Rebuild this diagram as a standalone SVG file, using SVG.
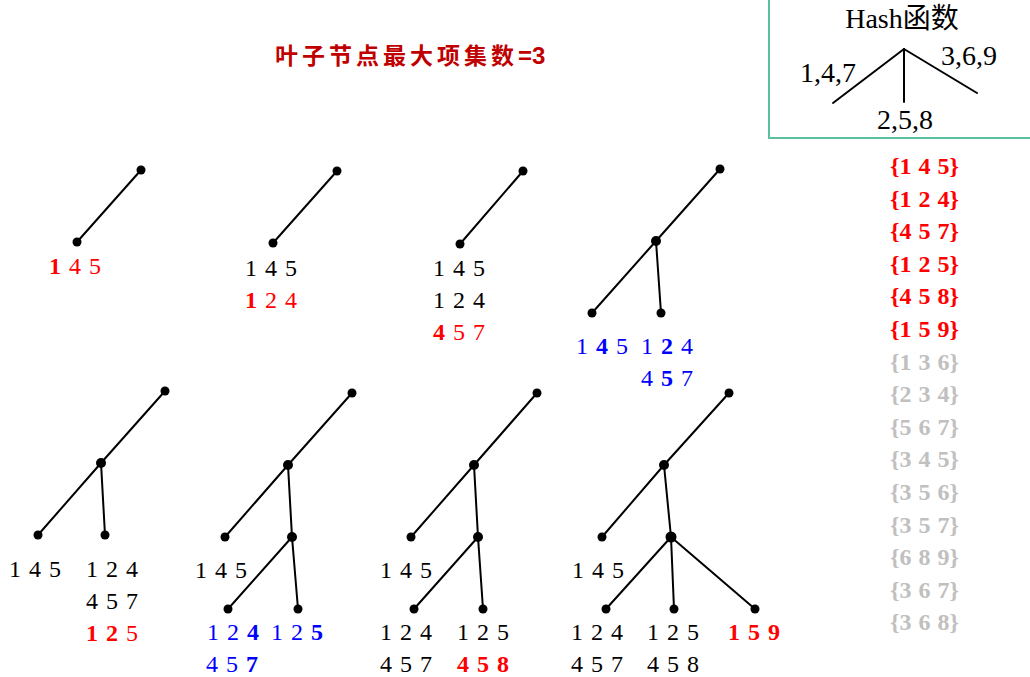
<svg xmlns="http://www.w3.org/2000/svg" width="1030" height="677" viewBox="0 0 1030 677">
<style>
.e{stroke:#000;stroke-width:2;fill:none;stroke-linecap:round}
.n{fill:#000}
.t{font-family:"Liberation Serif","Times New Roman",serif;font-size:24px;word-spacing:2px;fill:#000}
.r{fill:#FF0000}
.b{fill:#0000FF}
.B{font-weight:bold}
.L{font-family:"Liberation Serif","Times New Roman",serif;font-size:24px;font-weight:bold;word-spacing:1px}
.h{font-family:"Liberation Serif","Times New Roman","Noto Sans CJK SC",serif;font-size:28px;fill:#000}
</style>
<rect width="1030" height="677" fill="#fff"/>

<g id="title">
<text x="275" y="64" font-family="'Noto Sans CJK SC',sans-serif" font-size="23" font-weight="bold" letter-spacing="4" fill="#C00000">叶子节点最大项集数<tspan font-family="'Liberation Sans',Arial,sans-serif" font-size="24" letter-spacing="0">=3</tspan></text>
</g>

<g id="hash-box">
<rect x="769" y="-5" width="270" height="143" fill="none" stroke="#5CBFA0" stroke-width="2"/>
<text class="h" x="902" y="28" text-anchor="middle">Hash函数</text>
<line class="e" x1="904" y1="49" x2="833" y2="103"/>
<line class="e" x1="904" y1="49" x2="904" y2="102"/>
<line class="e" x1="904" y1="49" x2="977" y2="93"/>
<text class="h" x="800" y="82">1,4,7</text>
<text class="h" x="941" y="65">3,6,9</text>
<text class="h" x="877" y="129">2,5,8</text>
</g>

<g id="connectors">
<line class="e" x1="141" y1="170" x2="77" y2="242"/>
<line class="e" x1="337" y1="171" x2="273" y2="243"/>
<line class="e" x1="523" y1="171" x2="460" y2="244"/>
<line class="e" x1="720" y1="169" x2="656" y2="241"/>
<line class="e" x1="656" y1="241" x2="592" y2="313"/>
<line class="e" x1="656" y1="241" x2="661" y2="313"/>
<line class="e" x1="165" y1="391" x2="101" y2="463"/>
<line class="e" x1="101" y1="463" x2="38" y2="535"/>
<line class="e" x1="101" y1="463" x2="105" y2="535"/>
<line class="e" x1="352" y1="393" x2="288" y2="465"/>
<line class="e" x1="288" y1="465" x2="225" y2="537"/>
<line class="e" x1="288" y1="465" x2="292" y2="537"/>
<line class="e" x1="292" y1="537" x2="228" y2="609"/>
<line class="e" x1="292" y1="537" x2="298" y2="609"/>
<line class="e" x1="537" y1="393" x2="474" y2="465"/>
<line class="e" x1="474" y1="465" x2="411" y2="537"/>
<line class="e" x1="474" y1="465" x2="478" y2="537"/>
<line class="e" x1="478" y1="537" x2="414" y2="609"/>
<line class="e" x1="478" y1="537" x2="483" y2="609"/>
<line class="e" x1="729" y1="393" x2="664" y2="465"/>
<line class="e" x1="664" y1="465" x2="602" y2="537"/>
<line class="e" x1="664" y1="465" x2="671" y2="537"/>
<line class="e" x1="671" y1="537" x2="606" y2="609"/>
<line class="e" x1="671" y1="537" x2="674" y2="609"/>
<line class="e" x1="671" y1="537" x2="755" y2="609"/>
</g>

<g id="tree1">
<circle class="n" cx="141" cy="170" r="4.5"/>
<g id="tree1-leaf"><circle class="n" cx="77" cy="242" r="4.5"/>
<text class="t r" x="49" y="274"><tspan class="B">1</tspan> 4 5</text></g>
</g>

<g id="tree2">
<circle class="n" cx="337" cy="171" r="4.5"/>
<g id="tree2-leaf"><circle class="n" cx="273" cy="243" r="4.5"/>
<text class="t" x="245" y="276">1 4 5</text>
<text class="t r" x="245" y="308"><tspan class="B">1</tspan> 2 4</text></g>
</g>

<g id="tree3">
<circle class="n" cx="523" cy="171" r="4.5"/>
<g id="tree3-leaf"><circle class="n" cx="460" cy="244" r="4.5"/>
<text class="t" x="433" y="276">1 4 5</text>
<text class="t" x="433" y="308">1 2 4</text>
<text class="t r" x="433" y="340"><tspan class="B">4</tspan> 5 7</text></g>
</g>

<g id="tree4">
<circle class="n" cx="720" cy="169" r="4.5"/>
<circle class="n" cx="656" cy="241" r="5"/>
<g id="tree4-leaf1"><circle class="n" cx="592" cy="313" r="4.5"/>
<text class="t b" x="576" y="354">1 <tspan class="B">4</tspan> 5</text></g>
<g id="tree4-leaf2"><circle class="n" cx="661" cy="313" r="4.5"/>
<text class="t b" x="641" y="354">1 <tspan class="B">2</tspan> 4</text>
<text class="t b" x="641" y="386">4 <tspan class="B">5</tspan> 7</text></g>
</g>

<g id="tree5">
<circle class="n" cx="165" cy="391" r="4.5"/>
<circle class="n" cx="101" cy="463" r="5"/>
<g id="tree5-leaf1"><circle class="n" cx="38" cy="535" r="4.5"/>
<text class="t" x="9" y="577">1 4 5</text></g>
<g id="tree5-leaf2"><circle class="n" cx="105" cy="535" r="4.5"/>
<text class="t" x="86" y="577">1 2 4</text>
<text class="t" x="86" y="609">4 5 7</text>
<text class="t r" x="86" y="641"><tspan class="B">1</tspan> <tspan class="B">2</tspan> 5</text></g>
</g>

<g id="tree6">
<circle class="n" cx="352" cy="393" r="4.5"/>
<circle class="n" cx="288" cy="465" r="5"/>
<g id="tree6-leaf1"><circle class="n" cx="225" cy="537" r="4.5"/>
<text class="t" x="195" y="578">1 4 5</text></g>
<circle class="n" cx="292" cy="537" r="5"/>
<g id="tree6-leaf2"><circle class="n" cx="228" cy="609" r="4.5"/>
<text class="t b" x="207" y="640">1 2 <tspan class="B">4</tspan></text>
<text class="t b" x="206" y="672">4 5 <tspan class="B">7</tspan></text></g>
<g id="tree6-leaf3"><circle class="n" cx="298" cy="609" r="4.5"/>
<text class="t b" x="271" y="640">1 2 <tspan class="B">5</tspan></text></g>
</g>

<g id="tree7">
<circle class="n" cx="537" cy="393" r="4.5"/>
<circle class="n" cx="474" cy="465" r="5"/>
<g id="tree7-leaf1"><circle class="n" cx="411" cy="537" r="4.5"/>
<text class="t" x="380" y="578">1 4 5</text></g>
<circle class="n" cx="478" cy="537" r="5"/>
<g id="tree7-leaf2"><circle class="n" cx="414" cy="609" r="4.5"/>
<text class="t" x="380" y="640">1 2 4</text>
<text class="t" x="380" y="672">4 5 7</text></g>
<g id="tree7-leaf3"><circle class="n" cx="483" cy="609" r="4.5"/>
<text class="t" x="457" y="640">1 2 5</text>
<text class="t r B" x="457" y="672">4 5 8</text></g>
</g>

<g id="tree8">
<circle class="n" cx="729" cy="393" r="4.5"/>
<circle class="n" cx="664" cy="465" r="5"/>
<g id="tree8-leaf1"><circle class="n" cx="602" cy="537" r="4.5"/>
<text class="t" x="572" y="578">1 4 5</text></g>
<circle class="n" cx="671" cy="537" r="5.5"/>
<g id="tree8-leaf2"><circle class="n" cx="606" cy="609" r="4.5"/>
<text class="t" x="571" y="640">1 2 4</text>
<text class="t" x="571" y="672">4 5 7</text></g>
<g id="tree8-leaf3"><circle class="n" cx="674" cy="609" r="4.5"/>
<text class="t" x="647" y="640">1 2 5</text>
<text class="t" x="647" y="672">4 5 8</text></g>
<g id="tree8-leaf4"><circle class="n" cx="755" cy="609" r="4.5"/>
<text class="t r B" x="728" y="640">1 5 9</text></g>
</g>

<g id="itemsets">
<text class="L" fill="#FF0000" x="890" y="174">{1 4 5}</text>
<text class="L" fill="#FF0000" x="890" y="206.6">{1 2 4}</text>
<text class="L" fill="#FF0000" x="890" y="239.2">{4 5 7}</text>
<text class="L" fill="#FF0000" x="890" y="271.8">{1 2 5}</text>
<text class="L" fill="#FF0000" x="890" y="304.4">{4 5 8}</text>
<text class="L" fill="#FF0000" x="890" y="337">{1 5 9}</text>
<text class="L" fill="#C0C0C0" x="890" y="369.6">{1 3 6}</text>
<text class="L" fill="#C0C0C0" x="890" y="402.2">{2 3 4}</text>
<text class="L" fill="#C0C0C0" x="890" y="434.8">{5 6 7}</text>
<text class="L" fill="#C0C0C0" x="890" y="467.4">{3 4 5}</text>
<text class="L" fill="#C0C0C0" x="890" y="500">{3 5 6}</text>
<text class="L" fill="#C0C0C0" x="890" y="532.6">{3 5 7}</text>
<text class="L" fill="#C0C0C0" x="890" y="565.2">{6 8 9}</text>
<text class="L" fill="#C0C0C0" x="890" y="597.8">{3 6 7}</text>
<text class="L" fill="#C0C0C0" x="890" y="630.4">{3 6 8}</text>
</g>
</svg>
